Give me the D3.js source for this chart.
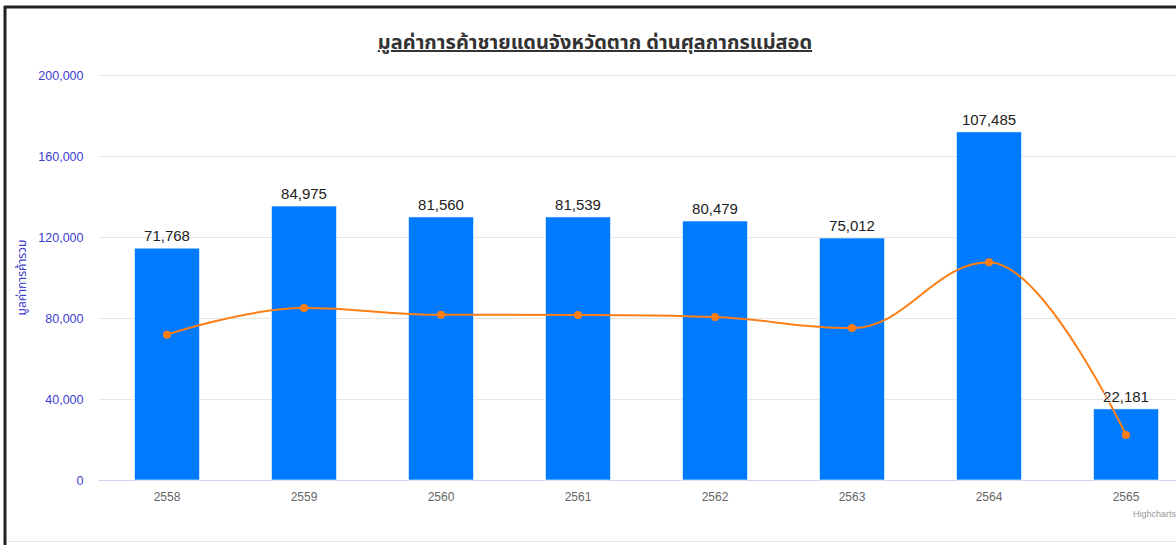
<!DOCTYPE html>
<html lang="th">
<head>
<meta charset="UTF-8">
<title>มูลค่าการค้าชายแดน</title>
<script src="https://cdn.jsdelivr.net/npm/d3@7/dist/d3.min.js"></script>
<style>
  html, body { margin: 0; padding: 0; background: #fff; }
  svg { display: block; }
</style>
</head>
<body>
<script>
// ข้อมูล
var years = ["2558", "2559", "2560", "2561", "2562", "2563", "2564", "2565"];
var barValues = [114500, 135300, 129900, 129900, 127900, 119500, 171900, 35100];
var lineValues = [71768, 84975, 81560, 81539, 80479, 75012, 107485, 22181];
var yTicks = [0, 40000, 80000, 120000, 160000, 200000];

var W = 1176, H = 545;
var plotLeft = 98.5, plotRight = 1194.5, plotTop = 75, plotBottom = 480;
var thaiFont = "'Noto Sans Thai', Tahoma, 'Noto Sans', 'DejaVu Sans', sans-serif";

var svg = d3.select("body").append("svg")
  .attr("width", W).attr("height", H);

// กรอบ
svg.append("line").attr("x1", 4).attr("x2", W).attr("y1", 7).attr("y2", 7)
  .attr("stroke", "#222").attr("stroke-width", 3);
svg.append("line").attr("x1", 5).attr("x2", 5).attr("y1", 6).attr("y2", H)
  .attr("stroke", "#222").attr("stroke-width", 3);
svg.append("line").attr("x1", 7).attr("x2", W).attr("y1", 541.5).attr("y2", 541.5)
  .attr("stroke", "#e6e6e6").attr("stroke-width", 1);

var x = d3.scaleBand().domain(years).range([plotLeft, plotRight])
  .paddingInner(0.525).paddingOuter(0.2625);
var y = d3.scaleLinear().domain([0, 200000]).range([plotBottom, plotTop]);

// เส้นกริด
svg.append("g").selectAll("line").data(yTicks.filter(function (d) { return d > 0; }))
  .enter().append("line")
  .attr("x1", plotLeft).attr("x2", plotRight)
  .attr("y1", function (d) { return Math.round(y(d)) + 0.5; })
  .attr("y2", function (d) { return Math.round(y(d)) + 0.5; })
  .attr("stroke", "#e6e6e6");

// แกน Y
var yAxis = svg.append("g").attr("transform", "translate(" + (plotLeft - 15) + ",0)")
  .call(d3.axisLeft(y).tickValues(yTicks).tickSize(0).tickPadding(0)
    .tickFormat(d3.format(",")));
yAxis.select(".domain").remove();
yAxis.selectAll("text")
  .attr("fill", "#3d3dd0").attr("font-size", "12.5px")
  .attr("font-family", "'Liberation Sans', Arial, sans-serif");

svg.append("text")
  .attr("transform", "translate(26," + ((plotTop + plotBottom) / 2) + ") rotate(-90)")
  .attr("text-anchor", "middle")
  .attr("fill", "#3d3dd0").attr("font-size", "12px")
  .attr("font-family", thaiFont)
  .text("มูลค่าการค้ารวม");

// แกน X
var xAxis = svg.append("g").attr("transform", "translate(0," + plotBottom + ")")
  .call(d3.axisBottom(x).tickSize(0).tickPadding(12));
xAxis.select(".domain").remove();
xAxis.selectAll("text")
  .attr("fill", "#666").attr("font-size", "12px")
  .attr("font-family", "'Liberation Sans', Arial, sans-serif");
svg.append("line").attr("x1", plotLeft).attr("x2", plotRight)
  .attr("y1", plotBottom + 0.5).attr("y2", plotBottom + 0.5)
  .attr("stroke", "#ccd6eb");

// แท่ง
svg.append("g").selectAll("rect").data(barValues).enter().append("rect")
  .attr("x", function (d, i) { return x(years[i]); })
  .attr("y", function (d) { return y(d); })
  .attr("width", x.bandwidth())
  .attr("height", function (d) { return plotBottom - y(d); })
  .attr("fill", "#007bff")
  .attr("stroke", "#ffffff").attr("stroke-width", 0.6);

// เส้นโค้ง (แบบ spline ของ Highcharts)
var pts = lineValues.map(function (d, i) {
  return { px: x(years[i]) + x.bandwidth() / 2, py: y(d) };
});
function splinePath(p) {
  var s = 1.5, den = s + 1, path = "M" + p[0].px + "," + p[0].py;
  var rc = [];
  for (var i = 0; i < p.length; i++) {
    var cur = p[i], lx = cur.px, ly = cur.py;
    if (i > 0 && i < p.length - 1) {
      var prev = p[i - 1], next = p[i + 1];
      var lcx = (s * cur.px + prev.px) / den, lcy = (s * cur.py + prev.py) / den;
      var rcx = (s * cur.px + next.px) / den, rcy = (s * cur.py + next.py) / den;
      var corr = ((rcy - lcy) * (rcx - cur.px)) / (rcx - lcx) + cur.py - rcy;
      lcy += corr; rcy += corr;
      if (lcy > prev.py && lcy > cur.py) { lcy = Math.max(prev.py, cur.py); rcy = 2 * cur.py - lcy; }
      else if (lcy < prev.py && lcy < cur.py) { lcy = Math.min(prev.py, cur.py); rcy = 2 * cur.py - lcy; }
      if (rcy > next.py && rcy > cur.py) { rcy = Math.max(next.py, cur.py); lcy = 2 * cur.py - rcy; }
      else if (rcy < next.py && rcy < cur.py) { rcy = Math.min(next.py, cur.py); lcy = 2 * cur.py - rcy; }
      lx = lcx; ly = lcy;
      rc[i] = [rcx, rcy];
    }
    if (i > 0) {
      var a = rc[i - 1] || [p[i - 1].px, p[i - 1].py];
      path += "C" + a[0] + "," + a[1] + " " + lx + "," + ly + " " + cur.px + "," + cur.py;
    }
  }
  return path;
}
svg.append("path").attr("d", splinePath(pts))
  .attr("fill", "none").attr("stroke", "#fd7e14").attr("stroke-width", 2);
svg.append("g").selectAll("circle").data(pts).enter().append("circle")
  .attr("cx", function (d) { return d.px; })
  .attr("cy", function (d) { return d.py; })
  .attr("r", 4).attr("fill", "#fd7e14");

// ป้ายค่า
svg.append("g").selectAll("text").data(lineValues).enter().append("text")
  .attr("x", function (d, i) { return x(years[i]) + x.bandwidth() / 2; })
  .attr("y", function (d, i) { return y(barValues[i]) - 7; })
  .attr("text-anchor", "middle")
  .attr("font-size", "15px")
  .attr("font-family", "'Liberation Sans', Arial, sans-serif")
  .attr("fill", "#222")
  .attr("stroke", "#fff").attr("stroke-width", 1.5).attr("paint-order", "stroke")
  .text(function (d) { return d3.format(",")(d); });

// ชื่อกราฟ
svg.append("text")
  .attr("x", 595).attr("y", 49)
  .attr("text-anchor", "middle")
  .attr("font-size", "20px").attr("font-weight", "bold")
  .attr("font-family", thaiFont)
  .attr("fill", "#333")
  .attr("text-decoration", "underline")
  .text("มูลค่าการค้าชายแดนจังหวัดตาก ด่านศุลกากรแม่สอด");

// เครดิต
svg.append("text")
  .attr("x", 1176).attr("y", 517)
  .attr("text-anchor", "end")
  .attr("font-size", "9px").attr("fill", "#999")
  .attr("font-family", "'Liberation Sans', Arial, sans-serif")
  .text("Highcharts");
</script>
</body>
</html>
